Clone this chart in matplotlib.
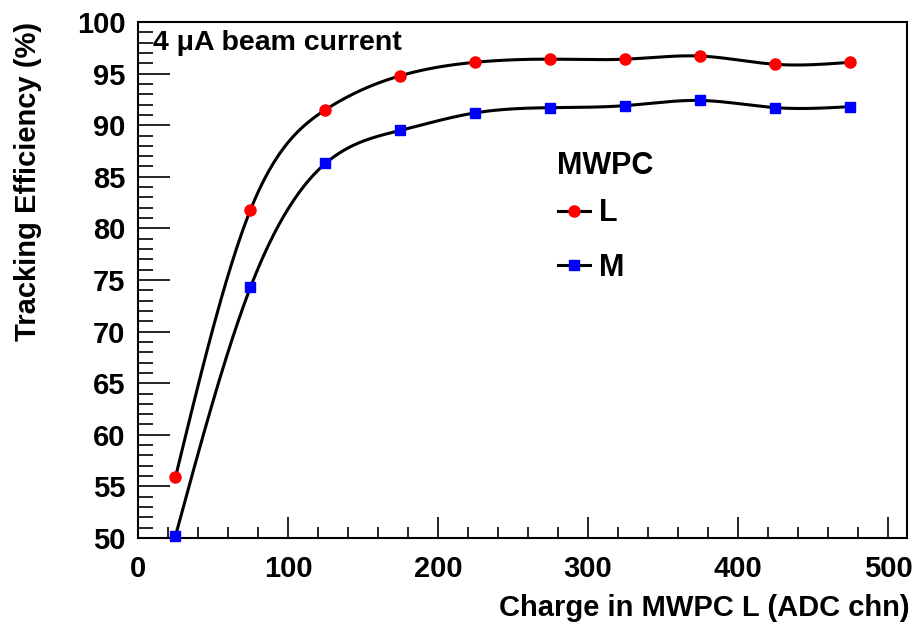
import matplotlib
matplotlib.use("Agg")
import matplotlib.pyplot as plt
import numpy as np
from matplotlib.ticker import MultipleLocator
from matplotlib.lines import Line2D

plt.rcParams['font.family'] = ['Liberation Sans', 'DejaVu Sans']
plt.rcParams['font.weight'] = 'bold'

charge = [25, 75, 125, 175, 225, 275, 325, 375, 425, 475]
eff_L = [55.9, 81.8, 91.5, 94.8, 96.1, 96.4, 96.4, 96.7, 95.9, 96.1]
eff_M = [50.2, 74.3, 86.3, 89.5, 91.2, 91.7, 91.9, 92.4, 91.7, 91.8]


def spline(x, y, n=400):
    # natural cubic spline, just for drawing the smooth line
    x = np.asarray(x, float)
    y = np.asarray(y, float)
    h = np.diff(x)
    m = len(x)
    A = np.zeros((m, m))
    b = np.zeros(m)
    A[0, 0] = A[-1, -1] = 1
    for i in range(1, m - 1):
        A[i, i - 1] = h[i - 1]
        A[i, i] = 2 * (h[i - 1] + h[i])
        A[i, i + 1] = h[i]
        b[i] = 6 * ((y[i + 1] - y[i]) / h[i] - (y[i] - y[i - 1]) / h[i - 1])
    M = np.linalg.solve(A, b)
    xs = np.linspace(x[0], x[-1], n)
    k = np.clip(np.searchsorted(x, xs) - 1, 0, m - 2)
    t0 = x[k + 1] - xs
    t1 = xs - x[k]
    hk = h[k]
    ys = (M[k] * t0**3 + M[k + 1] * t1**3) / (6 * hk) \
        + (y[k] / hk - M[k] * hk / 6) * t0 + (y[k + 1] / hk - M[k + 1] * hk / 6) * t1
    return xs, ys


fig = plt.figure(figsize=(9.15, 6.29), dpi=100)
ax = fig.add_axes([0.1508, 0.1447, 0.8405, 0.8203])

styles = [(eff_L, 'red', 'o', 8), (eff_M, 'blue', 's', 7.5)]
for yy, col, mk, ms in styles:
    xs, ys = spline(charge, yy)
    ax.plot(xs, ys, color='black', lw=2.2, zorder=2, clip_on=False)
    ax.plot(charge, yy, ls='none', marker=mk, color=col, ms=ms,
            zorder=3, clip_on=False)

ax.set_xlim(0, 512.7)
ax.set_ylim(50, 100)
ax.xaxis.set_major_locator(MultipleLocator(100))
ax.xaxis.set_minor_locator(MultipleLocator(20))
ax.yaxis.set_major_locator(MultipleLocator(5))
ax.yaxis.set_minor_locator(MultipleLocator(1))
ax.tick_params(which='both', direction='in', width=1.2, labelsize=21)
ax.tick_params(axis='y', which='major', length=23, pad=9)
ax.tick_params(axis='y', which='minor', length=11)
ax.tick_params(axis='x', which='major', length=15, pad=12)
ax.tick_params(axis='x', which='minor', length=8)
for s in ax.spines.values():
    s.set_linewidth(1.5)

ax.set_xlabel('Charge in MWPC L (ADC chn)', fontsize=21, fontweight='bold')
ax.xaxis.set_label_coords(1.004, -0.136)
ax.xaxis.label.set_horizontalalignment('right')
ax.xaxis.label.set_verticalalignment('center')
ax.set_ylabel('Tracking Efficiency (%)', fontsize=21, fontweight='bold')
ax.yaxis.set_label_coords(-0.143, 1.0)
ax.yaxis.label.set_verticalalignment('center')
ax.yaxis.label.set_horizontalalignment('right')

ax.text(0.019, 0.985, '4 \u03bcA beam current', transform=ax.transAxes,
        fontsize=20.5, fontweight='bold', va='top', ha='left')

# legend: title as its own text, entries below
ax.text(0.545, 0.721, 'MWPC', transform=ax.transAxes, fontsize=22,
        fontweight='bold', va='center', ha='left')
handles = [Line2D([], [], color='black', lw=2.2, marker='o', mfc='red', mec='red', ms=8),
           Line2D([], [], color='black', lw=2.2, marker='s', mfc='blue', mec='blue', ms=7.5)]
leg = ax.legend(handles, ['L', 'M'], loc='upper left',
                bbox_to_anchor=(0.53, 0.682), frameon=False, fontsize=22,
                handlelength=1.05, handletextpad=0.3,
                labelspacing=0.8, borderaxespad=0)

fig.savefig('out.png', dpi=100)
